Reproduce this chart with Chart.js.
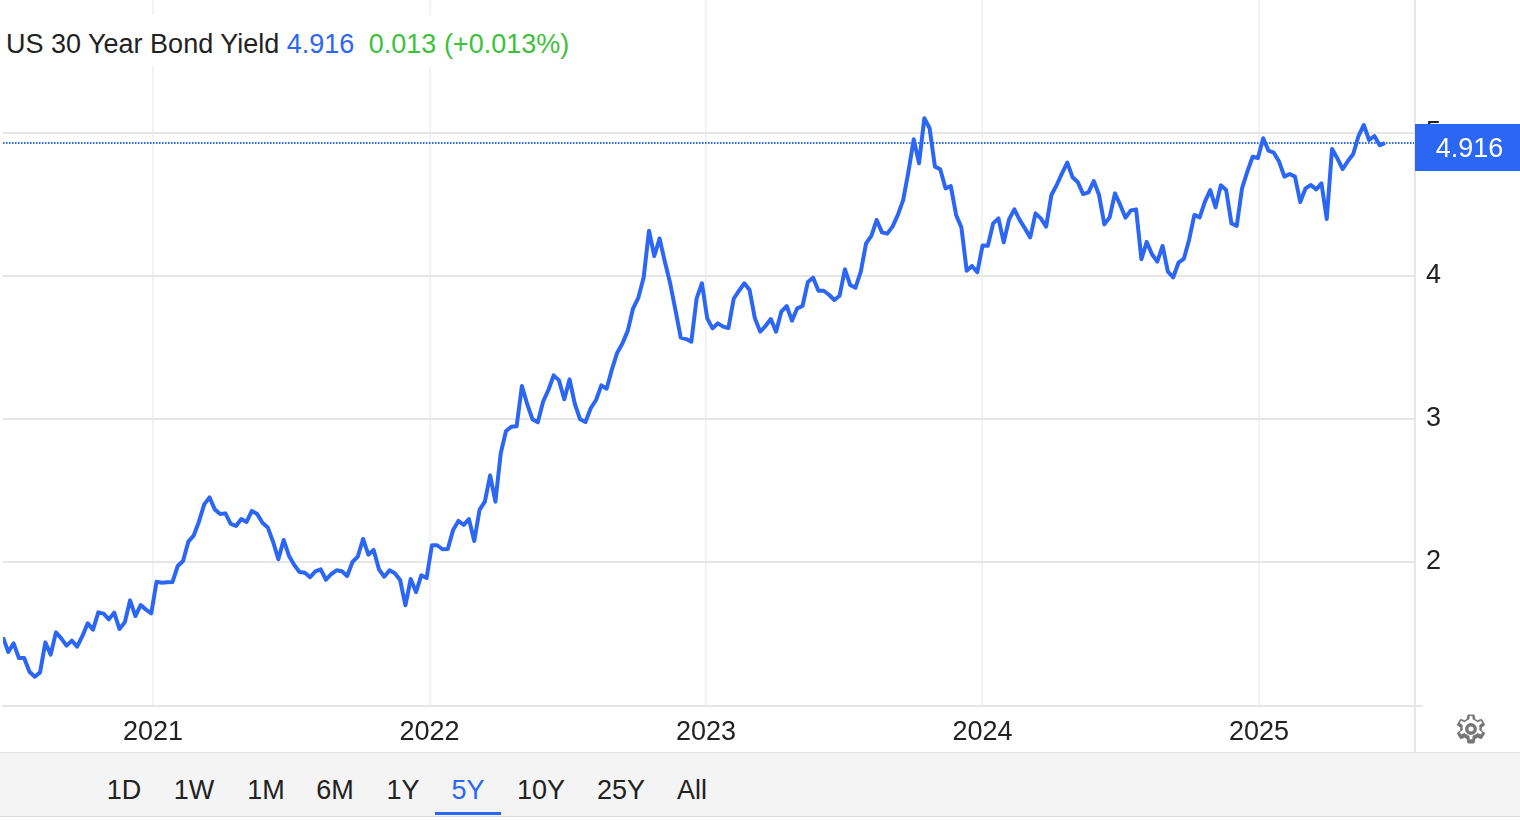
<!DOCTYPE html>
<html><head><meta charset="utf-8">
<script src="https://cdn.jsdelivr.net/npm/chart.js@4"></script>
<style>
html,body{margin:0;padding:0;background:#fff;width:1520px;height:820px;overflow:hidden;font-family:"Liberation Sans",Arial,sans-serif}
#wrap{position:absolute;left:0;top:0;width:1520px;height:752px}
#title{position:absolute;left:0;top:15px;padding:0 8px 0 6px;height:51px;line-height:59px;background:#fff;font-size:27px;color:#222;white-space:nowrap}
#title .v{color:#2b66f5}#title .c{color:#3dc13c;margin-left:7px}
#rline{position:absolute;left:1414px;top:0;width:2px;height:752px;background:#e6e6e6}
#rtick{position:absolute;left:1415px;top:705px;width:8px;height:2px;background:#e6e6e6}
#badge{position:absolute;left:1417px;top:124px;width:105px;height:47px;line-height:49px;color:#fff;font-size:27px;text-align:center}
#badgebg{position:absolute;left:1415px;top:124px;width:105px;height:47px;background:#2b66f5}
#band{position:absolute;left:0;top:752px;width:1520px;height:63px;background:#f4f4f4;border-top:1px solid #e3e3e3;border-bottom:1px solid #dcdcdc}
.r{position:absolute;top:23px;font-size:27px;line-height:28px;color:#222;transform:translateX(-50%)}
.r.on{color:#2b66f5}
#ul{position:absolute;left:435px;top:59px;width:66px;height:3px;background:#2b66f5}
#gear{position:absolute;left:1454px;top:712px;width:34px;height:34px}
</style></head><body>
<div id="wrap"><canvas id="c" width="1520" height="752"></canvas></div>
<div id="rline"></div><div id="rtick"></div>
<div id="title">US 30 Year Bond Yield <span class="v">4.916</span> <span class="c">0.013 (+0.013%)</span></div>
<div id="badgebg"></div><div id="badge">4.916</div>
<div id="band"><div id="ul"></div></div>
<svg id="gear" viewBox="0 0 24 24"><path fill="#757575" stroke="#757575" stroke-width="0.35" d="M19.43 12.98c.04-.32.07-.64.07-.98s-.03-.66-.07-.98l2.11-1.65c.19-.15.24-.42.12-.64l-2-3.46c-.12-.22-.39-.3-.61-.22l-2.49 1c-.52-.4-1.08-.73-1.69-.98l-.38-2.65C14.46 2.18 14.25 2 14 2h-4c-.25 0-.46.18-.49.42l-.38 2.65c-.61.25-1.17.59-1.69.98l-2.49-1c-.23-.09-.49 0-.61.22l-2 3.46c-.13.22-.07.49.12.64l2.11 1.65c-.04.32-.07.65-.07.98s.03.66.07.98l-2.11 1.65c-.19.15-.24.42-.12.64l2 3.46c.12.22.39.3.61.22l2.49-1c.52.4 1.08.73 1.69.98l.38 2.65c.03.24.24.42.49.42h4c.25 0 .46-.18.49-.42l.38-2.65c.61-.25 1.17-.59 1.69-.98l2.49 1c.23.09.49 0 .61-.22l2-3.46c.12-.22.07-.49-.12-.64l-2.11-1.65zM12 19.5l-1-.1-.45-2.6-.9-.4c-.55-.2-1-.5-1.5-.85l-.75-.55-2.45 1-1-1.75 2.1-1.6-.1-.95c-.03-.25-.05-.47-.05-.7s.02-.45.05-.7l.1-.95-2.1-1.6 1-1.75 2.45 1 .75-.55c.5-.35.95-.65 1.5-.85l.9-.4.45-2.6h2l.45 2.6.9.4c.55.2 1 .5 1.5.85l.75.55 2.45-1 1 1.75-2.1 1.6.1.95c.03.25.05.47.05.7s-.02.45-.05.7l-.1.95 2.1 1.6-1 1.75-2.45-1-.75.55c-.5.35-.95.65-1.5.85l-.9.4-.45 2.6zM12 8c-2.2 0-4 1.8-4 4s1.8 4 4 4 4-1.8 4-4-1.8-4-4-4zm0 6c-1.1 0-2-.9-2-2s.9-2 2-2 2 .9 2 2-.9 2-2 2z"/></svg>
<script>
const yields = [
1.473,1.371,1.431,1.329,1.329,1.233,1.198,1.228,1.438,1.352,1.508,1.466,1.415,1.450,1.408,1.483,1.571,1.527,1.648,1.639,
1.599,1.646,1.531,1.578,1.732,1.622,1.699,1.667,1.641,1.862,1.855,1.858,1.860,1.972,2.007,2.142,2.184,2.282,2.403,2.452,
2.368,2.336,2.340,2.266,2.252,2.301,2.280,2.357,2.336,2.275,2.242,2.142,2.019,2.154,2.044,1.979,1.930,1.925,1.893,1.935,
1.949,1.876,1.916,1.942,1.935,1.902,2.000,2.037,2.161,2.051,2.084,1.949,1.897,1.942,1.921,1.874,1.697,1.881,1.790,1.907,
1.888,2.117,2.117,2.089,2.091,2.224,2.287,2.259,2.300,2.147,2.364,2.422,2.606,2.422,2.760,2.916,2.946,2.949,3.231,3.105,
2.998,2.977,3.121,3.203,3.305,3.270,3.138,3.277,3.105,2.998,2.979,3.075,3.133,3.235,3.212,3.347,3.464,3.529,3.618,3.774,
3.849,3.991,4.317,4.140,4.261,4.100,3.949,3.762,3.569,3.559,3.541,3.844,3.949,3.704,3.634,3.669,3.646,3.636,3.841,3.897,
3.949,3.902,3.704,3.611,3.650,3.699,3.611,3.751,3.790,3.688,3.774,3.790,3.958,3.988,3.897,3.897,3.869,3.832,3.862,4.047,
3.937,3.918,4.030,4.228,4.280,4.392,4.305,4.296,4.345,4.427,4.531,4.730,4.956,4.788,5.103,5.033,4.765,4.746,4.613,4.629,
4.427,4.340,4.037,4.070,4.026,4.214,4.212,4.368,4.403,4.235,4.396,4.466,4.392,4.333,4.270,4.438,4.403,4.345,4.566,4.636,
4.718,4.793,4.690,4.655,4.573,4.585,4.664,4.566,4.361,4.410,4.578,4.497,4.408,4.459,4.466,4.117,4.238,4.152,4.100,4.210,
4.030,3.991,4.093,4.119,4.252,4.427,4.410,4.520,4.601,4.480,4.634,4.601,4.368,4.350,4.613,4.730,4.834,4.825,4.963,4.876,
4.862,4.800,4.695,4.713,4.695,4.517,4.613,4.636,4.606,4.648,4.399,4.888,4.823,4.748,4.804,4.853,4.979,5.056,4.951,4.979,
4.914,4.930];
const yearTicks = [2021,2022,2023,2024,2025];
const yieldTicks = [2,3,4,5];
const rangeLabels = ['1D','1W','1M','6M','1Y','5Y','10Y','25Y','All'];
const rangeCenters = [124,194,266,335,403,468,541,621,692];
const activeRange = '5Y';
const firstWeek = 2020.4575, weekStep = 0.01915;
const xMin = 2020.4575, xMax = 2025.5642, yMin = 0.993, yMax = 5.93;

const band = document.getElementById('band');
rangeLabels.forEach((t,i)=>{const d=document.createElement('div');d.className='r'+(t===activeRange?' on':'');d.textContent=t;d.style.left=rangeCenters[i]+'px';band.appendChild(d);});

const linePts = yields.map((v,i)=>({x:firstWeek+i*weekStep,y:v}));
const lastVal = yields[yields.length-1];
new Chart(document.getElementById('c'),{
  type:'line',
  data:{datasets:[
    {data:linePts,borderColor:'#2b66f5',borderWidth:4,pointRadius:0,tension:0,borderJoinStyle:'round',order:1},
    {data:[{x:xMin,y:lastVal},{x:xMax,y:lastVal}],borderColor:'#2b66f5',borderWidth:2,borderDash:[1.5,1.5],pointRadius:0,order:2}
  ]},
  options:{
    responsive:false,animation:false,
    layout:{padding:{left:3,top:0,right:0,bottom:0}},
    plugins:{legend:{display:false},tooltip:{enabled:false},title:{display:false}},
    scales:{
      x:{type:'linear',min:xMin,max:xMax,
        afterBuildTicks:a=>{a.ticks=yearTicks.map(v=>({value:v}));},
        afterFit:a=>{a.height=46;a.paddingLeft=0;a.paddingRight=0;},
        ticks:{autoSkip:false,maxRotation:0,padding:10,color:'#222',font:{family:'"Liberation Sans"',size:27},callback:v=>String(v)},
        grid:{color:'#f0f3fa',lineWidth:2,drawTicks:false},
        border:{color:'#e6e6e6',width:2}},
      y:{type:'linear',position:'right',min:yMin,max:yMax,
        afterBuildTicks:a=>{a.ticks=yieldTicks.map(v=>({value:v}));},
        afterFit:a=>{a.width=105;a.paddingTop=0;a.paddingBottom=0;},
        ticks:{autoSkip:false,padding:11,color:'#222',font:{family:'"Liberation Sans"',size:27},callback:v=>String(v)},
        grid:{color:'#e6e6e6',lineWidth:2,drawTicks:false},
        border:{display:false}}
    }
  }
});
</script></body></html>
